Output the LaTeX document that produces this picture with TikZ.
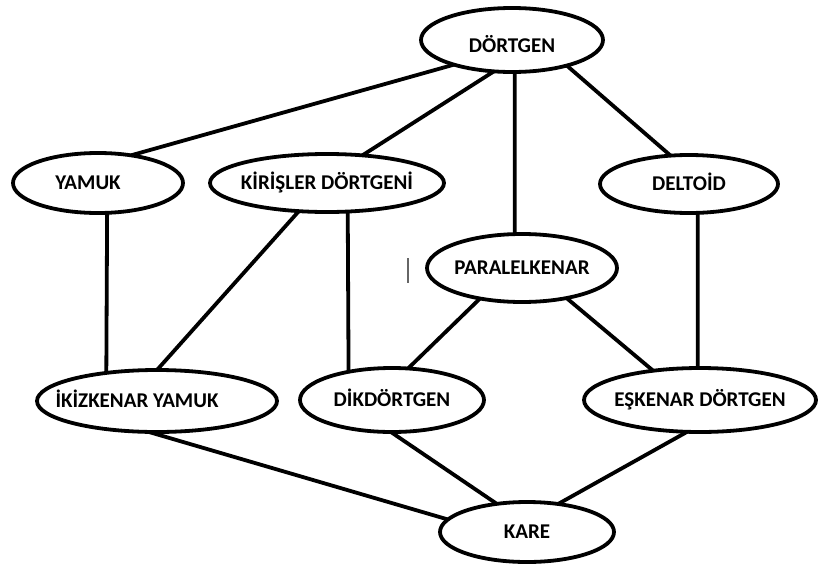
\documentclass[tikz,border=0pt]{standalone}
\usepackage{fontspec}
\setmainfont{Carlito}
\usetikzlibrary{shapes.geometric}
\begin{document}
\begin{tikzpicture}[x=1pt,y=1pt,
  oval/.style={ellipse, draw=black, line width=3.8pt, fill=white,
    inner sep=0pt, outer sep=0pt, text height=13.5pt, text depth=0pt,
    font=\fontsize{21}{21}\selectfont\bfseries},
  link/.style={line width=3.8pt, draw=black}]
\useasboundingbox (0,0) rectangle (819,-565);

% quadrilateral family tree
\node[oval, minimum width=182pt, minimum height=64pt] (dortgen) at (512,-40) {\makebox[0pt]{\raisebox{-6pt}{DÖRTGEN}}};
\node[oval, minimum width=170pt, minimum height=60pt] (yamuk) at (98,-183) {\makebox[0pt]{\hspace*{-20pt}YAMUK}};
\node[oval, minimum width=234pt, minimum height=58pt] (kirisler) at (327,-183) {\makebox[0pt]{KİRİŞLER DÖRTGENİ}};
\node[oval, minimum width=178pt, minimum height=58pt] (deltoid) at (689,-184) {\makebox[0pt]{DELTOİD}};
\node[oval, minimum width=190pt, minimum height=68pt] (paral) at (522,-268) {\makebox[0pt]{PARALELKENAR}};
\node[oval, minimum width=240pt, minimum height=62pt] (ikiz) at (157,-401) {\makebox[0pt]{\hspace*{-40pt}İKİZKENAR YAMUK}};
\node[oval, minimum width=184pt, minimum height=64pt] (dik) at (392,-400) {\makebox[0pt]{DİKDÖRTGEN}};
\node[oval, minimum width=232pt, minimum height=64pt] (eskenar) at (700,-400) {\makebox[0pt]{EŞKENAR DÖRTGEN}};
\node[oval, minimum width=174pt, minimum height=60pt] (kare) at (527,-532) {\makebox[0pt]{KARE}};

% connections
\draw[link] (dortgen.203) -- (yamuk.40);
\draw[link] (dortgen.240) -- (kirisler.38);
\draw[link] (dortgen.275) -- (paral.102);
\draw[link] (dortgen.335) -- (deltoid.123);
\draw[link] (yamuk.287) -- (ikiz.151);
\draw[link] (kirisler.225) -- (ikiz.90);
\draw[link] (kirisler.306) -- (dik.147);
\draw[link] (deltoid.287) -- (eskenar.94);
\draw[link] (paral.216) -- (dik.63);
\draw[link] (paral.326) -- (eskenar.148);
\draw[link] (ikiz.255) -- (kare.171);
\draw[link] (dik.268) -- (kare.137);
\draw[link] (eskenar.248) -- (kare.42);

% stray text cursor mark
\draw[line width=1.4pt, draw=black!60] (408,-258) -- (408,-283);
\end{tikzpicture}
\end{document}
